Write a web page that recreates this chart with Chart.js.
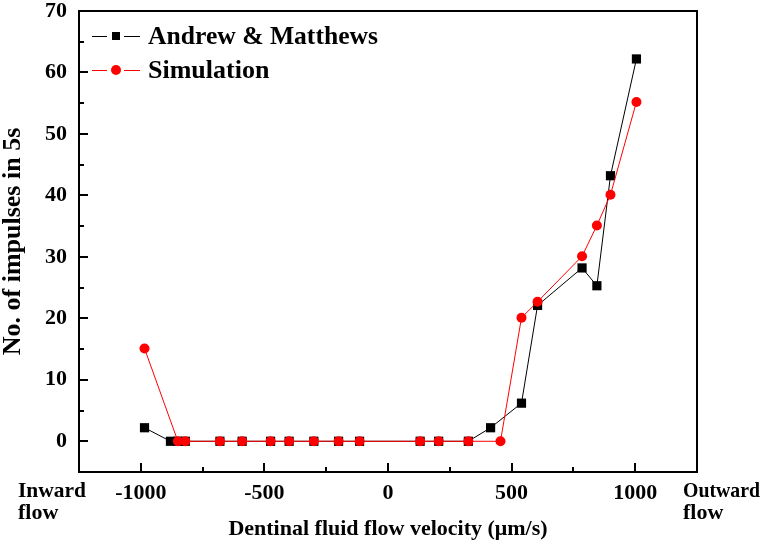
<!DOCTYPE html>
<html>
<head>
<meta charset="utf-8">
<script src="https://cdn.jsdelivr.net/npm/chart.js@4.4.1/dist/chart.umd.min.js"></script>
<style>
  html, body { margin: 0; padding: 0; background: #fff; }
  #wrap { width: 764px; height: 544px; }
</style>
</head>
<body>
<div id="wrap"><canvas id="lineChart" width="764" height="544"></canvas></div>
<script>
// Andrew & Matthews (measured)
var amX = [-985, -880, -850, -820, -680, -590, -475, -400, -300, -200, -115, 130, 205, 325, 415, 540, 605, 785, 845, 900, 1005];
var amY = [2.2, 0, 0, 0, 0, 0, 0, 0, 0, 0, 0, 0, 0, 0, 2.2, 6.2, 22.1, 28.2, 25.3, 43.2, 62.2];
// Simulation
var simX = [-985, -850, -820, -680, -590, -475, -400, -300, -200, -115, 130, 205, 325, 455, 540, 605, 785, 845, 900, 1005];
var simY = [15.1, 0, 0, 0, 0, 0, 0, 0, 0, 0, 0, 0, 0, 0, 20.1, 22.7, 30.1, 35.1, 40.1, 55.2];

// tick labels / tick marks
var xTicks = [-1000, -500, 0, 500, 1000];
var xMinor = [-750, -250, 250, 750];
var yTicks = [0, 10, 20, 30, 40, 50, 60, 70];
var yMinor = [5, 15, 25, 35, 45, 55, 65];

var FONT = '"Liberation Serif", "Times New Roman", serif';

function toPoints(xs, ys) {
  return xs.map(function(x, i) { return { x: x, y: ys[i] }; });
}

// 테두리 + 안쪽 눈금
var frameTicks = {
  id: 'frameTicks',
  beforeDatasetsDraw: function(chart) {
    var ctx = chart.ctx, a = chart.chartArea;
    var xs = chart.scales.x, ys = chart.scales.y;
    ctx.save();
    ctx.strokeStyle = '#000';
    ctx.lineWidth = 2;
    ctx.strokeRect(a.left, a.top, a.right - a.left, a.bottom - a.top);
    ctx.beginPath();
    xTicks.forEach(function(v) {
      var px = Math.round(xs.getPixelForValue(v));
      ctx.moveTo(px, a.bottom); ctx.lineTo(px, a.bottom - 9);
    });
    xMinor.forEach(function(v) {
      var px = Math.round(xs.getPixelForValue(v));
      ctx.moveTo(px, a.bottom); ctx.lineTo(px, a.bottom - 5);
    });
    yTicks.forEach(function(v) {
      var py = Math.round(ys.getPixelForValue(v));
      ctx.moveTo(a.left, py); ctx.lineTo(a.left + 9, py);
    });
    yMinor.forEach(function(v) {
      var py = Math.round(ys.getPixelForValue(v));
      ctx.moveTo(a.left, py); ctx.lineTo(a.left + 5, py);
    });
    ctx.stroke();
    ctx.restore();
  }
};

// 범례 + Inward/Outward 글자
var extras = {
  id: 'extras',
  afterDraw: function(chart) {
    var ctx = chart.ctx;
    ctx.save();
    var rows = [36, 70];
    chart.data.datasets.forEach(function(ds, i) {
      var y = rows[i];
      ctx.strokeStyle = ds.borderColor;
      ctx.lineWidth = 1;
      ctx.beginPath();
      ctx.moveTo(92, y + 0.5); ctx.lineTo(107, y + 0.5);
      ctx.moveTo(124, y + 0.5); ctx.lineTo(140, y + 0.5);
      ctx.stroke();
      ctx.fillStyle = ds.pointBackgroundColor;
      if (ds.pointStyle === 'rect') {
        ctx.fillRect(112, y - 4, 8, 8);
      } else {
        ctx.beginPath();
        ctx.arc(116, y, 5, 0, Math.PI * 2);
        ctx.fill();
      }
      ctx.fillStyle = '#000';
      ctx.font = 'bold 26px ' + FONT;
      ctx.textBaseline = 'middle';
      ctx.textAlign = 'left';
      ctx.fillText(ds.label, 148, y + 1, 230);
    });
    ctx.font = 'bold 22px ' + FONT;
    ctx.textBaseline = 'middle';
    ctx.fillText('Inward', 18, 491, 68);
    ctx.fillText('flow', 18, 513);
    ctx.fillText('Outward', 683, 491, 77);
    ctx.fillText('flow', 683, 513);
    ctx.restore();
  }
};

var ctx = document.getElementById('lineChart').getContext('2d');
var chart = new Chart(ctx, {
  type: 'scatter',
  data: {
    datasets: [{
      label: 'Andrew & Matthews',
      data: toPoints(amX, amY),
      showLine: true,
      borderColor: '#000',
      borderWidth: 1,
      pointStyle: 'rect',
      pointRadius: 6.5,
      pointBackgroundColor: '#000',
      pointBorderWidth: 0,
      order: 1
    }, {
      label: 'Simulation',
      data: toPoints(simX, simY),
      showLine: true,
      borderColor: '#ff0000',
      borderWidth: 1,
      pointStyle: 'circle',
      pointRadius: 5,
      pointBackgroundColor: '#ff0000',
      pointBorderWidth: 0,
      order: 0
    }]
  },
  options: {
    responsive: false,
    animation: false,
    devicePixelRatio: 1,
    layout: { padding: { top: 11, right: 67, left: 0, bottom: 0 } },
    plugins: { legend: { display: false }, tooltip: { enabled: false } },
    scales: {
      x: {
        type: 'linear',
        min: -1250, max: 1250,
        grid: { display: false, drawTicks: false },
        border: { display: false },
        afterBuildTicks: function(s) { s.ticks = xTicks.map(function(v) { return { value: v }; }); },
        afterFit: function(s) { s.height = 72; s.paddingLeft = 0; s.paddingRight = 0; },
        ticks: {
          color: '#000',
          padding: 10,
          maxRotation: 0,
          autoSkip: false,
          font: { family: FONT, size: 22, weight: 'bold', lineHeight: 1 },
          callback: function(v) { return String(v); }
        },
        title: {
          display: true,
          text: 'Dentinal fluid flow velocity (\u03bcm/s)',
          color: '#000',
          font: { family: FONT, size: 22, weight: 'bold', lineHeight: 1 },
          padding: { top: 0, bottom: 4 }
        }
      },
      y: {
        type: 'linear',
        min: -5, max: 70,
        grid: { display: false, drawTicks: false },
        border: { display: false },
        afterBuildTicks: function(s) { s.ticks = yTicks.map(function(v) { return { value: v }; }); },
        afterFit: function(s) { s.width = 79; s.paddingTop = 0; s.paddingBottom = 0; },
        ticks: {
          color: '#000',
          padding: 12,
          autoSkip: false,
          font: { family: FONT, size: 22, weight: 'bold', lineHeight: 1 },
          callback: function(v) { return String(v); }
        },
        title: {
          display: true,
          text: 'No. of impulses in 5s',
          color: '#000',
          font: { family: FONT, size: 26, weight: 'bold', lineHeight: 1 },
          padding: { top: 0, bottom: 0 }
        }
      }
    }
  },
  plugins: [frameTicks, extras]
});
</script>
</body>
</html>
